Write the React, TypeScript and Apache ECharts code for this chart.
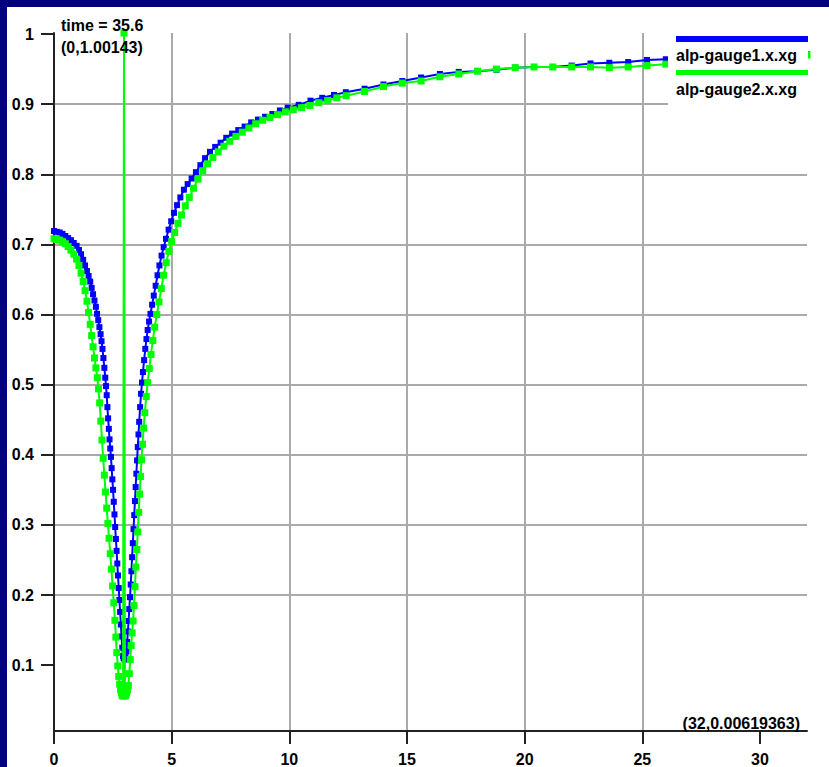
import React, { useEffect, useRef } from "react";
import * as echarts from "echarts";

const seriesNames = ["alp-gauge1.x.xg", "alp-gauge2.x.xg"];
const timeValue = 35.6;
const xMin = 0;
const xMax = 32;
const yMin = 0.00619363;
const yMax = 1.00143;
const xTicks = [0, 5, 10, 15, 20, 25, 30];
const yTicks = [0.1, 0.2, 0.3, 0.4, 0.5, 0.6, 0.7, 0.8, 0.9, 1];

const gauge1: [number, number][] = [
  [0, 0.719], [0.12, 0.718], [0.24, 0.717], [0.36, 0.715], [0.48, 0.712], [0.6, 0.709], [0.72, 0.706], [0.84, 0.702], [0.96, 0.698],
  [1.06, 0.692], [1.15, 0.686], [1.24, 0.678], [1.32, 0.67], [1.4, 0.662], [1.47, 0.655], [1.54, 0.647], [1.6, 0.638], [1.66, 0.629],
  [1.72, 0.62], [1.78, 0.611], [1.83, 0.601], [1.88, 0.592], [1.93, 0.582], [1.98, 0.572], [2.02, 0.562], [2.06, 0.551], [2.1, 0.538],
  [2.14, 0.524], [2.18, 0.51], [2.21, 0.498], [2.24, 0.485], [2.27, 0.468], [2.3, 0.452], [2.33, 0.437], [2.36, 0.422], [2.39, 0.409],
  [2.42, 0.397], [2.45, 0.381], [2.48, 0.365], [2.51, 0.35], [2.54, 0.333], [2.57, 0.315], [2.6, 0.297], [2.63, 0.28], [2.66, 0.263],
  [2.69, 0.245], [2.72, 0.228], [2.75, 0.21], [2.78, 0.193], [2.81, 0.176], [2.84, 0.158], [2.87, 0.141], [2.9, 0.125], [2.93, 0.113],
  [2.96, 0.11], [3.0, 0.108], [3.04, 0.112], [3.08, 0.12], [3.11, 0.133], [3.14, 0.148], [3.17, 0.163], [3.2, 0.18], [3.23, 0.197],
  [3.26, 0.215], [3.29, 0.234], [3.32, 0.254], [3.35, 0.274], [3.38, 0.294], [3.41, 0.314], [3.44, 0.334], [3.47, 0.354], [3.5, 0.373],
  [3.53, 0.392], [3.56, 0.411], [3.59, 0.429], [3.62, 0.447], [3.66, 0.468], [3.7, 0.487], [3.74, 0.503], [3.78, 0.518], [3.83, 0.535],
  [3.88, 0.551], [3.93, 0.565], [3.98, 0.578], [4.04, 0.59], [4.1, 0.601], [4.17, 0.614], [4.24, 0.627], [4.32, 0.641], [4.4, 0.656],
  [4.48, 0.67], [4.57, 0.684], [4.66, 0.696], [4.76, 0.708], [4.87, 0.721], [4.98, 0.733], [5.1, 0.745], [5.23, 0.756], [5.37, 0.767],
  [5.52, 0.778], [5.68, 0.786], [5.85, 0.794], [6.03, 0.803], [6.22, 0.813], [6.42, 0.823], [6.63, 0.832], [6.85, 0.839], [7.08, 0.845],
  [7.32, 0.852], [7.57, 0.858], [7.83, 0.863], [8.1, 0.868], [8.38, 0.874], [8.67, 0.878], [8.97, 0.882], [9.28, 0.886], [9.6, 0.891],
  [9.93, 0.895], [10.4, 0.899], [10.9, 0.905], [11.4, 0.909], [11.9, 0.913], [12.4, 0.917], [13.2, 0.922], [14.0, 0.928], [14.8, 0.933],
  [15.6, 0.938], [16.4, 0.943], [17.2, 0.946], [18.0, 0.947], [18.8, 0.949], [19.6, 0.952], [20.4, 0.953], [21.2, 0.953], [22.0, 0.955],
  [22.8, 0.958], [23.6, 0.959], [24.4, 0.96], [25.2, 0.963], [26.0, 0.964], [26.8, 0.965], [27.6, 0.966], [28.4, 0.967], [29.2, 0.968],
  [30.0, 0.969], [30.8, 0.97], [31.6, 0.971], [32.0, 0.971],
];

const gauge2: [number, number][] = [
  [0, 0.708], [0.12, 0.707], [0.24, 0.706], [0.36, 0.704], [0.48, 0.701], [0.6, 0.697], [0.72, 0.692], [0.84, 0.686], [0.96, 0.679],
  [1.06, 0.67], [1.15, 0.659], [1.24, 0.647], [1.32, 0.634], [1.4, 0.619], [1.47, 0.603], [1.54, 0.586], [1.6, 0.57], [1.66, 0.554],
  [1.72, 0.538], [1.78, 0.524], [1.84, 0.51], [1.89, 0.494], [1.94, 0.474], [1.99, 0.448], [2.04, 0.421], [2.09, 0.395], [2.14, 0.371],
  [2.19, 0.347], [2.24, 0.324], [2.29, 0.302], [2.34, 0.281], [2.39, 0.259], [2.44, 0.237], [2.49, 0.213], [2.54, 0.189], [2.59, 0.164],
  [2.63, 0.14], [2.67, 0.118], [2.71, 0.099], [2.75, 0.084], [2.79, 0.073], [2.83, 0.065], [2.87, 0.06], [2.9, 0.057], [2.935, 0.056],
  [2.975, 1.00143], [3.015, 0.056], [3.05, 0.057], [3.08, 0.06], [3.12, 0.064], [3.16, 0.071], [3.2, 0.088], [3.24, 0.108], [3.28, 0.128],
  [3.32, 0.146], [3.36, 0.163], [3.4, 0.185], [3.44, 0.212], [3.48, 0.24], [3.52, 0.265], [3.56, 0.29], [3.6, 0.318], [3.64, 0.344],
  [3.68, 0.369], [3.72, 0.393], [3.76, 0.415], [3.81, 0.438], [3.86, 0.46], [3.92, 0.483], [3.98, 0.503], [4.05, 0.523], [4.12, 0.543],
  [4.2, 0.563], [4.28, 0.582], [4.37, 0.6], [4.46, 0.618], [4.56, 0.637], [4.66, 0.656], [4.77, 0.674], [4.88, 0.69], [5.0, 0.704],
  [5.13, 0.717], [5.27, 0.73], [5.42, 0.742], [5.58, 0.755], [5.75, 0.767], [5.93, 0.78], [6.12, 0.793], [6.32, 0.805], [6.53, 0.815],
  [6.75, 0.824], [6.98, 0.832], [7.22, 0.84], [7.47, 0.847], [7.73, 0.854], [8.0, 0.86], [8.28, 0.866], [8.57, 0.872], [8.87, 0.877],
  [9.18, 0.881], [9.5, 0.885], [9.83, 0.889], [10.17, 0.892], [10.52, 0.895], [10.88, 0.898], [11.25, 0.902], [11.63, 0.905],
  [12.02, 0.909], [12.42, 0.912], [13.2, 0.918], [14.0, 0.925], [14.8, 0.93], [15.6, 0.933], [16.4, 0.939], [17.2, 0.943], [18.0, 0.947],
  [18.8, 0.95], [19.6, 0.952], [20.4, 0.953], [21.2, 0.953], [22.0, 0.953], [22.8, 0.953], [23.6, 0.952], [24.4, 0.953], [25.2, 0.955],
  [26.0, 0.957], [26.8, 0.959], [27.6, 0.961], [28.4, 0.963], [29.2, 0.965], [30.0, 0.967], [30.8, 0.968], [31.6, 0.969], [32.0, 0.97],
];

const seriesColors = ["#0000ff", "#00ff00"];

export default function App() {
  const ref = useRef<HTMLDivElement>(null);

  useEffect(() => {
    if (!ref.current) return;
    const chart = echarts.init(ref.current, null, { renderer: "svg" });
    const font = '"Liberation Sans", Arial, Helvetica, sans-serif';
    const textStyle = { fontFamily: font, fontWeight: "bold", fontSize: 16, fill: "#000" };

    chart.setOption({
      animation: false,
      backgroundColor: "#ffffff",
      grid: { left: 47, right: 22, top: 26, bottom: 35, containLabel: false },
      xAxis: {
        type: "value",
        min: xMin,
        max: xMax,
        axisLine: { show: true, onZero: false, lineStyle: { color: "#222", width: 2 } },
        axisTick: { show: true, inside: false, length: 13, customValues: xTicks, lineStyle: { color: "#222", width: 2 } },
        axisLabel: {
          customValues: xTicks,
          margin: 20,
          color: "#000",
          fontFamily: font,
          fontWeight: "bold",
          fontSize: 16,
        },
        splitLine: { show: true, showMinLine: false, showMaxLine: false, lineStyle: { color: "#aaaaaa", width: 2 } },
      },
      yAxis: {
        type: "value",
        min: yMin,
        max: yMax,
        axisLine: { show: true, onZero: false, lineStyle: { color: "#222", width: 2 } },
        axisTick: { show: true, inside: false, length: 13, customValues: yTicks, lineStyle: { color: "#222", width: 2 } },
        axisLabel: {
          customValues: yTicks,
          margin: 20,
          color: "#000",
          fontFamily: font,
          fontWeight: "bold",
          fontSize: 16,
          formatter: (v: number) => String(Math.round(v * 10) / 10),
        },
        splitLine: { show: true, showMinLine: false, showMaxLine: false, lineStyle: { color: "#aaaaaa", width: 2 } },
      },
      series: [
        {
          name: seriesNames[0],
          type: "line",
          data: gauge1,
          symbol: "rect",
          symbolSize: 6,
          showSymbol: true,
          silent: true,
          z: 3,
          lineStyle: { color: seriesColors[0], width: 2 },
          itemStyle: { color: seriesColors[0] },
        },
        {
          name: seriesNames[1],
          type: "line",
          data: gauge2,
          symbol: "rect",
          symbolSize: 7,
          showSymbol: true,
          silent: true,
          z: 4,
          lineStyle: { color: seriesColors[1], width: 2 },
          itemStyle: { color: seriesColors[1] },
        },
      ],
      graphic: [
        { type: "rect", z: 100, shape: { x: 661, y: 22, width: 140, height: 83 }, style: { fill: "#ffffff" } },
        { type: "line", z: 101, shape: { x1: 669, y1: 32, x2: 801, y2: 32 }, style: { stroke: seriesColors[0], lineWidth: 6 } },
        { type: "text", z: 101, x: 669, y: 48, style: { ...textStyle, text: seriesNames[0], verticalAlign: "middle" } },
        { type: "line", z: 101, shape: { x1: 669, y1: 65.5, x2: 801, y2: 65.5 }, style: { stroke: seriesColors[1], lineWidth: 5 } },
        { type: "text", z: 101, x: 669, y: 82, style: { ...textStyle, text: seriesNames[1], verticalAlign: "middle" } },
        { type: "text", z: 101, x: 54, y: 18, style: { ...textStyle, text: `time = ${timeValue}`, verticalAlign: "middle" } },
        { type: "text", z: 101, x: 54, y: 40, style: { ...textStyle, text: `(${xMin},${yMax})`, verticalAlign: "middle" } },
        {
          type: "text",
          z: 101,
          x: 793,
          y: 716,
          style: { ...textStyle, text: `(${xMax},${yMin})`, align: "right", verticalAlign: "middle" },
        },
      ],
    });

    return () => chart.dispose();
  }, []);

  return (
    <div style={{ position: "fixed", left: 0, top: 0, width: 829, height: 767, background: "#000080" }}>
      <div ref={ref} style={{ position: "absolute", left: 7, top: 7, width: 822, height: 760, background: "#ffffff" }} />
    </div>
  );
}
